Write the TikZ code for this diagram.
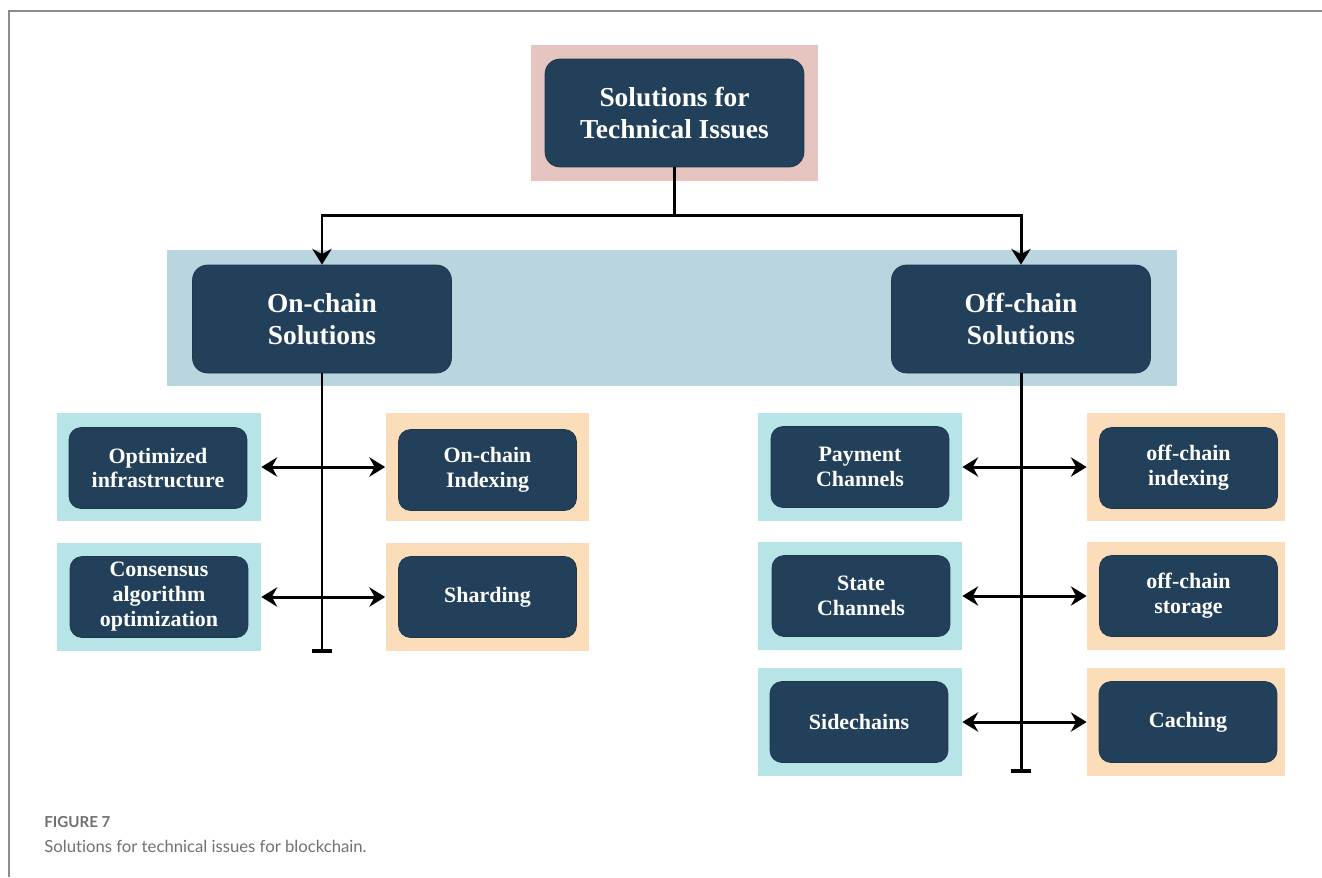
\documentclass[tikz,border=0pt]{standalone}
\usepackage{fontspec}
\setmainfont{Liberation Serif}
\newfontfamily\captionfont[Ligatures=CommonOff]{Lato}
\usetikzlibrary{arrows.meta}

\definecolor{boxblue}{HTML}{22405A}
\definecolor{rootpink}{HTML}{E6C5C0}
\definecolor{bandblue}{HTML}{B8D5E0}
\definecolor{tealbg}{HTML}{B7E4E7}
\definecolor{peachbg}{HTML}{FBDDB9}
\definecolor{framegrey}{HTML}{8C8C8C}
\definecolor{captiongrey}{HTML}{707070}

\tikzset{
    box/.style={draw=boxblue!85!black, fill=boxblue, rounded corners=0.3cm,
        text=white, align=center, inner sep=0pt,
        font=\bfseries\fontsize{15.6}{18.2}\selectfont,
        minimum width=5.18cm, minimum height=2.16cm},
    smallbox/.style={box, rounded corners=0.24cm,
        font=\bfseries\fontsize{12.5}{14.2}\selectfont,
        minimum width=3.56cm, minimum height=1.62cm},
    bgpanel/.style={inner sep=0pt, minimum width=4.08cm, minimum height=2.16cm},
    conn/.style={line width=1.7pt},
    arrowconn/.style={-{Stealth[length=9pt, width=11pt, inset=3pt]}},
    twoway/.style={{Stealth[length=9pt, width=11pt, inset=3pt]}-{Stealth[length=9pt, width=11pt, inset=3pt]}},
    barend/.style={-{Bar[width=11pt, line width=2.2pt]}},
    captiontext/.style={anchor=base west, inner sep=0pt, text=captiongrey}
}

\begin{document}
\begin{tikzpicture}[x=0.02cm, y=-0.02cm]
    \useasboundingbox (0, 0) rectangle (1322, 877);
    % frame of the figure
    \draw[framegrey, line width=0.9pt] (9, 877) -- (9, 11) -- (1322, 11);

    % root and first level
    \node[bgpanel, fill=rootpink, minimum width=5.74cm, minimum height=2.72cm]
        (rootbg) at (674.5, 113) {};
    \node[box] (root) at (674.5, 113) {Solutions for\\Technical Issues};
    \node[inner sep=0pt, fill=bandblue, minimum width=20.2cm,
        minimum height=2.72cm] (band) at (672, 318) {};
    \node[box] (onchain) at (322, 319) {On-chain\\Solutions};
    \node[box] (offchain) at (1021, 319) {Off-chain\\Solutions};

    % on-chain branch
    \node[bgpanel, fill=tealbg] (optbg) at (159, 467) {};
    \node[smallbox] (opt) at (158, 468) {Optimized\\infrastructure};
    \node[bgpanel, fill=peachbg] (idxbg) at (487.5, 467) {};
    \node[smallbox] (idx) at (487.5, 470) {On-chain\\Indexing};
    \node[bgpanel, fill=tealbg] (consbg) at (159, 597) {};
    \node[smallbox] (cons) at (159, 597) {Consensus\\algorithm\\optimization};
    \node[bgpanel, fill=peachbg] (shardbg) at (487.5, 597) {};
    \node[smallbox] (shard) at (487.5, 597) {Sharding};

    % off-chain branch
    \node[bgpanel, fill=tealbg] (paybg) at (860, 467) {};
    \node[smallbox] (pay) at (860, 467) {Payment\\Channels};
    \node[bgpanel, fill=peachbg, minimum width=3.96cm] (oidxbg) at (1186, 467) {};
    \node[smallbox] (oidx) at (1188.5, 468) {off-chain\\indexing};
    \node[bgpanel, fill=tealbg] (statebg) at (860, 596) {};
    \node[smallbox] (state) at (861, 596) {State\\Channels};
    \node[bgpanel, fill=peachbg, minimum width=3.96cm] (storebg) at (1186, 596) {};
    \node[smallbox] (store) at (1188.5, 596) {off-chain\\storage};
    \node[bgpanel, fill=tealbg] (sidebg) at (860, 722) {};
    \node[smallbox] (side) at (859, 722) {Sidechains};
    \node[bgpanel, fill=peachbg, minimum width=3.96cm] (cachebg) at (1186, 722) {};
    \node[smallbox] (cache) at (1188, 722) {Caching};

    \coordinate (split) at (674.5, 215);
    \coordinate (onend) at (322, 653);
    \coordinate (offend) at (1021, 773);

    \draw[conn] (root) -- (split);
    \draw[conn, arrowconn] (split) -| (onchain);
    \draw[conn, arrowconn] (split) -| (offchain);
    \draw[conn, barend] (onchain) -- (onend);
    \draw[conn, barend] (offchain) -- (offend);
    \draw[conn, twoway] (optbg) -- (idxbg);
    \draw[conn, twoway] (consbg) -- (shardbg);
    \draw[conn, twoway] (paybg) -- (oidxbg);
    \draw[conn, twoway] (statebg) -- (storebg);
    \draw[conn, twoway] (sidebg) -- (cachebg);

    % caption
    \node[captiontext, font=\captionfont\bfseries\fontsize{8.6}{10}\selectfont]
        (fignum) at (44, 827) {FIGURE 7};
    \node[captiontext, font=\captionfont\fontsize{9.5}{11}\selectfont]
        (figcap) at (44, 852) {Solutions for technical issues for blockchain.};
\end{tikzpicture}
\end{document}
